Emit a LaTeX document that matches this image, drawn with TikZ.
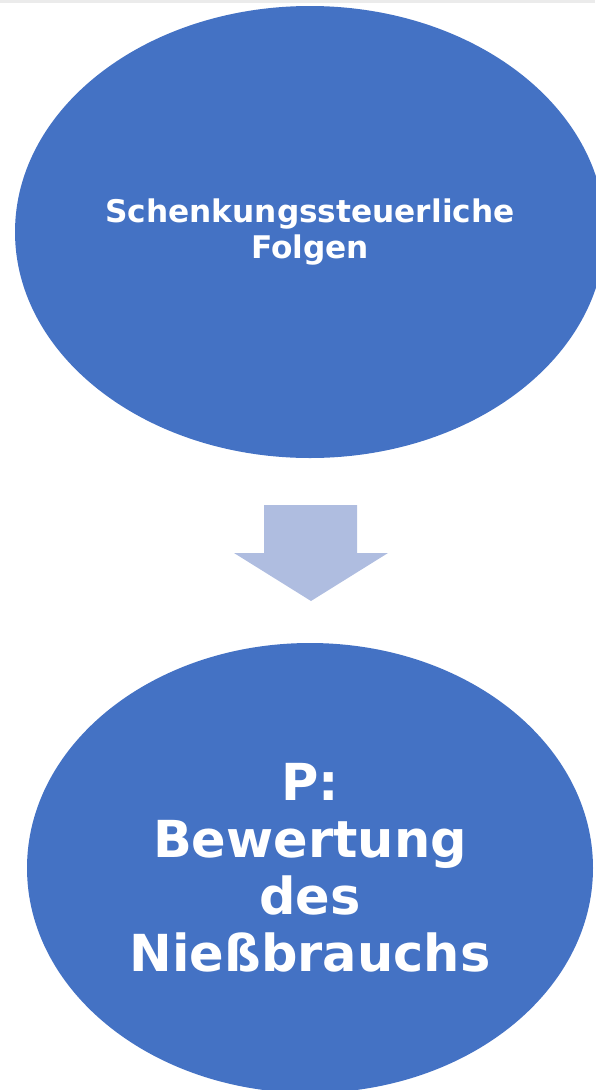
\documentclass[tikz,border=0pt]{standalone}
\usepackage{fontspec}
\setmainfont{DejaVu Sans}
\usetikzlibrary{shapes.geometric}
\definecolor{ovalblue}{RGB}{68,114,196}
\definecolor{arrowblue}{RGB}{175,189,224}
\definecolor{stripgray}{RGB}{235,235,235}
\tikzset{
  oval/.style={ellipse, fill=ovalblue, draw=none, inner sep=0pt,
    text=white, align=center},
  smalltext/.style={font=\fontsize{31.2}{36}\selectfont\bfseries},
  bigtext/.style={font=\fontsize{51}{57}\selectfont\bfseries}
}
\begin{document}
\begin{tikzpicture}[x=1pt,y=-1pt]
\useasboundingbox (0,0) rectangle (595,1090);
%\draw [lightgray](0,0) grid (595,1090);
\fill [stripgray](0,0) rectangle (595,3);

\node [oval, smalltext, minimum width=590pt, minimum height=452pt] (folgen) at (310,232)
  {Schenkungssteuerliche\\Folgen};
\node [oval, bigtext, minimum width=566pt, minimum height=450pt] (bewertung) at (310,868)
  {P:\\Bewertung\\des\\Nießbrauchs};

\fill [arrowblue](264,505) -- (357,505) -- (357,553) -- (388,553) -- (311,601)
  -- (234,553) -- (264,553) -- cycle;
\end{tikzpicture}
\end{document}
